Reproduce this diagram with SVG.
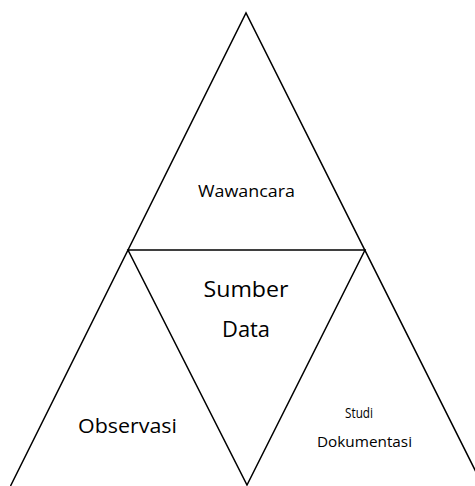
<svg xmlns="http://www.w3.org/2000/svg" width="475" height="486" viewBox="0 0 475 486">
<style>
.ln{fill:none;stroke:#000;stroke-width:1.5;stroke-linejoin:miter}
text{font-family:"Open Sans","Noto Sans",sans-serif;fill:#000;text-anchor:middle}
</style>
<rect width="475" height="486" fill="#fff"/>
<g id="connectors">
<path class="ln" d="M10.5,486 L246,13 L483,486"/>
<path class="ln" d="M128,250 L365,250 L247,485 Z"/>
</g>
<g id="wawancara"><text x="246.5" y="196.5" font-size="15.5" textLength="97" lengthAdjust="spacingAndGlyphs">Wawancara</text></g>
<g id="sumber-data">
<text x="246" y="296.5" font-size="22.5" textLength="85" lengthAdjust="spacingAndGlyphs">Sumber</text>
<text x="246" y="337" font-size="22" textLength="48" lengthAdjust="spacingAndGlyphs">Data</text>
</g>
<g id="observasi"><text x="127.5" y="433" font-size="20.5" textLength="99" lengthAdjust="spacingAndGlyphs">Observasi</text></g>
<g id="studi-dokumentasi">
<text x="359" y="418" font-size="14" textLength="28" lengthAdjust="spacingAndGlyphs">Studi</text>
<text x="364.5" y="446.5" font-size="14" textLength="95" lengthAdjust="spacingAndGlyphs">Dokumentasi</text>
</g>
</svg>
